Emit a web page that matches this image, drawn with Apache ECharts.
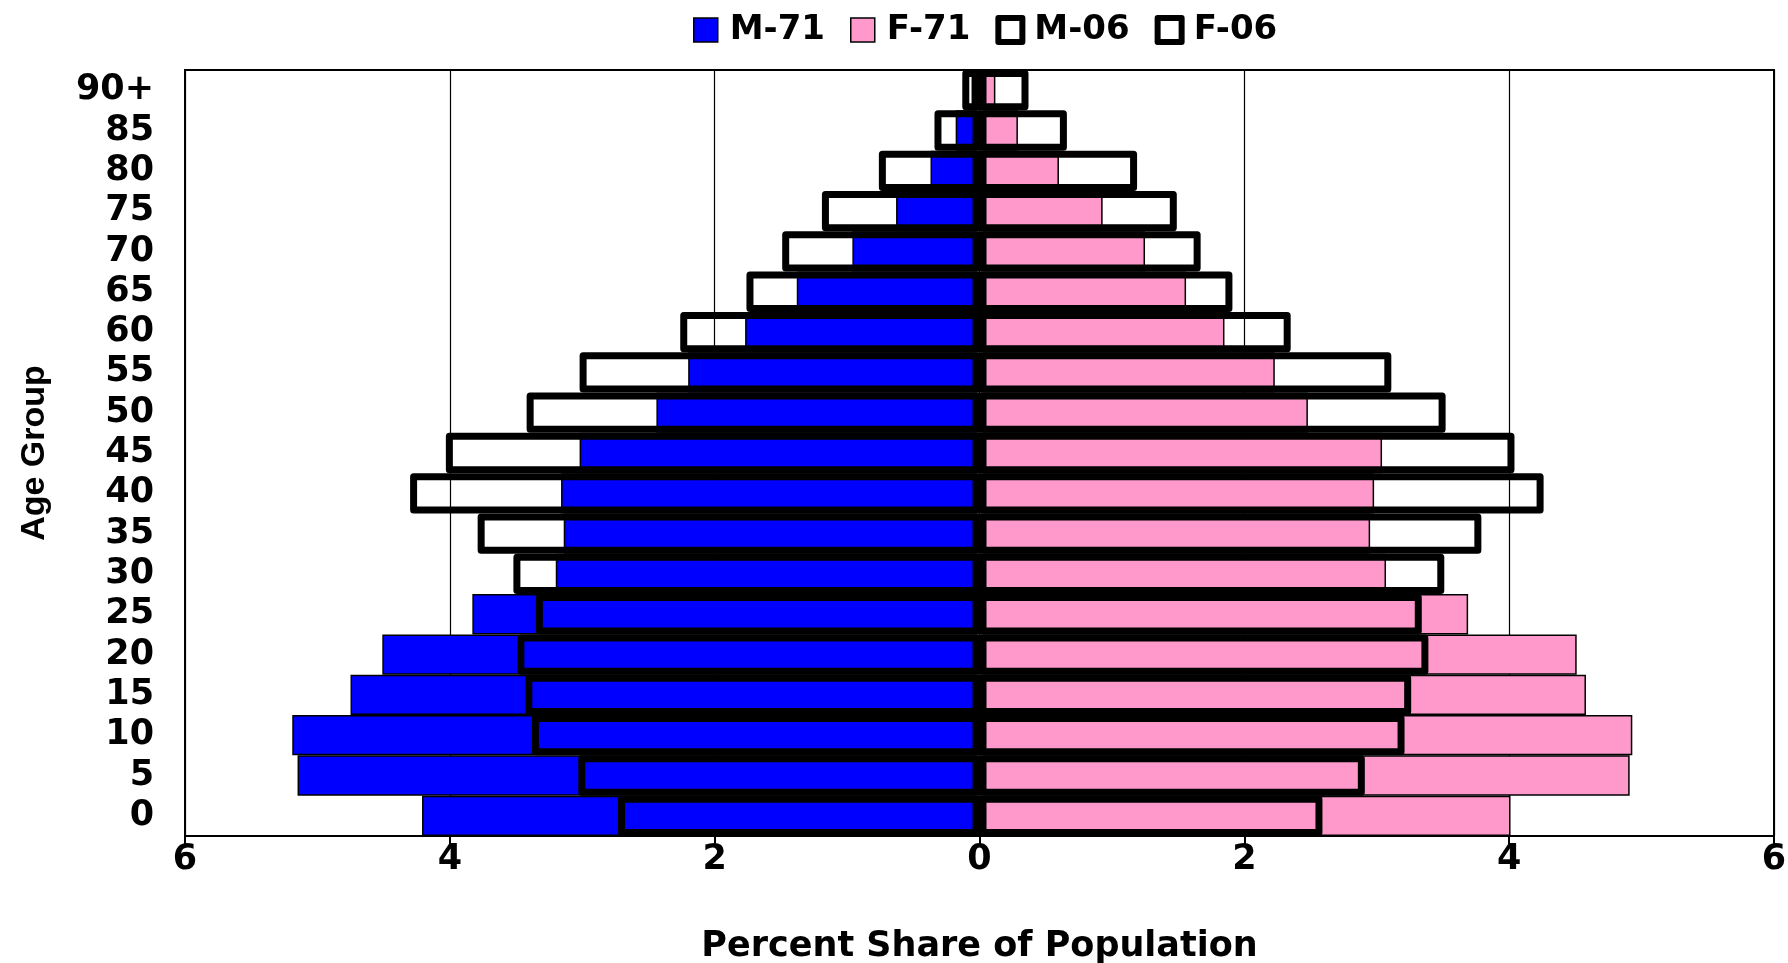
<!DOCTYPE html>
<html>
<head>
<meta charset="utf-8">
<script src="https://cdn.jsdelivr.net/npm/echarts@6/dist/echarts.min.js"></script>
<style>
  html, body { margin: 0; padding: 0; background: #fff; }
  #chart { width: 1788px; height: 963px; }
</style>
</head>
<body>
<div id="chart"></div>
<script>
// Age groups (bottom to top)
const ageGroups = ['0','5','10','15','20','25','30','35','40','45','50','55','60','65','70','75','80','85','90+'];

// Percent share of population
const male1971   = [4.21, 5.15, 5.19, 4.75, 4.51, 3.83, 3.20, 3.14, 3.16, 3.02, 2.44, 2.20, 1.77, 1.38, 0.96, 0.63, 0.37, 0.18, 0.06];
const female1971 = [4.01, 4.91, 4.93, 4.58, 4.51, 3.69, 3.07, 2.95, 2.98, 3.04, 2.48, 2.23, 1.85, 1.56, 1.25, 0.93, 0.60, 0.29, 0.12];
const male2006   = [2.73, 3.03, 3.38, 3.43, 3.49, 3.35, 3.52, 3.79, 4.30, 4.03, 3.42, 3.02, 2.26, 1.76, 1.49, 1.19, 0.76, 0.34, 0.13];
const female2006 = [2.59, 2.91, 3.21, 3.26, 3.39, 3.34, 3.51, 3.79, 4.26, 4.04, 3.52, 3.11, 2.35, 1.91, 1.67, 1.49, 1.19, 0.66, 0.37];

const seriesNames = ['M-71', 'F-71', 'M-06', 'F-06'];
const xTicks = { min: -6, max: 6, interval: 2 };

const BLUE = '#0000FF';
const PINK = '#FF99CC';
const WIDE_FONT = 'DejaVu Sans';

const chart = echarts.init(document.getElementById('chart'), null, { renderer: 'canvas' });

const thinStyle = (c) => ({ color: c, borderColor: '#000', borderWidth: 1.5 });
const outlineStyle = { color: 'rgba(0,0,0,0)', borderColor: '#000', borderWidth: 7, borderJoin: 'round' };

const barBase = {
  type: 'bar',
  barGap: '-100%',
  barCategoryGap: '0%',
  emphasis: { disabled: true },
  animation: false
};

chart.setOption({
  animation: false,
  backgroundColor: '#fff',
  legend: {
    top: 8,
    left: 688,
    icon: 'rect',
    itemWidth: 24,
    itemHeight: 24,
    itemGap: 25,
    selectedMode: false,
    textStyle: { fontSize: 34, fontWeight: 'bold', fontFamily: WIDE_FONT, color: '#000', padding: [0, 0, 0, 7] },
    data: [
      { name: seriesNames[0], itemStyle: thinStyle(BLUE) },
      { name: seriesNames[1], itemStyle: thinStyle(PINK) },
      { name: seriesNames[2], itemStyle: { color: '#fff', borderColor: '#000', borderWidth: 6, borderJoin: 'round' } },
      { name: seriesNames[3], itemStyle: { color: '#fff', borderColor: '#000', borderWidth: 6, borderJoin: 'round' } }
    ]
  },
  grid: {
    left: 185, right: 14, top: 70, bottom: 127,
    show: true, borderColor: '#000', borderWidth: 2, backgroundColor: '#fff',
    outerBoundsMode: 'none'
  },
  xAxis: {
    type: 'value',
    min: xTicks.min, max: xTicks.max, interval: xTicks.interval,
    name: 'Percent Share of Population',
    nameLocation: 'middle',
    nameGap: 93,
    nameTextStyle: { fontSize: 35, fontWeight: 'bold', fontFamily: WIDE_FONT, color: '#000' },
    axisLine: { show: true, onZero: false, lineStyle: { color: '#000', width: 2 } },
    axisTick: { show: true, inside: false, length: 8, lineStyle: { color: '#000', width: 2 } },
    axisLabel: {
      fontSize: 35, fontWeight: 'bold', fontFamily: WIDE_FONT, color: '#000', margin: 6,
      formatter: (v) => String(Math.abs(v))
    },
    splitLine: { show: true, lineStyle: { color: '#000', width: 1.2 } }
  },
  yAxis: {
    type: 'category',
    data: ageGroups,
    name: 'Age Group',
    nameLocation: 'middle',
    nameRotate: 90,
    nameGap: 133,
    nameTextStyle: { fontSize: 34, fontWeight: 'bold', fontFamily: 'Liberation Sans', color: '#000' },
    axisLine: { show: false },
    axisTick: { show: false },
    splitLine: { show: false },
    axisLabel: { fontSize: 35, fontWeight: 'bold', fontFamily: WIDE_FONT, color: '#000', margin: 31, interval: 0 }
  },
  series: [
    Object.assign({}, barBase, { name: seriesNames[0], z: 2, itemStyle: thinStyle(BLUE), data: male1971.map(v => -v) }),
    Object.assign({}, barBase, { name: seriesNames[1], z: 2, itemStyle: thinStyle(PINK), data: female1971.slice() }),
    Object.assign({}, barBase, { name: seriesNames[2], z: 3, itemStyle: outlineStyle, data: male2006.map(v => -v) }),
    Object.assign({}, barBase, { name: seriesNames[3], z: 3, itemStyle: outlineStyle, data: female2006.slice() })
  ]
});
</script>
</body>
</html>
